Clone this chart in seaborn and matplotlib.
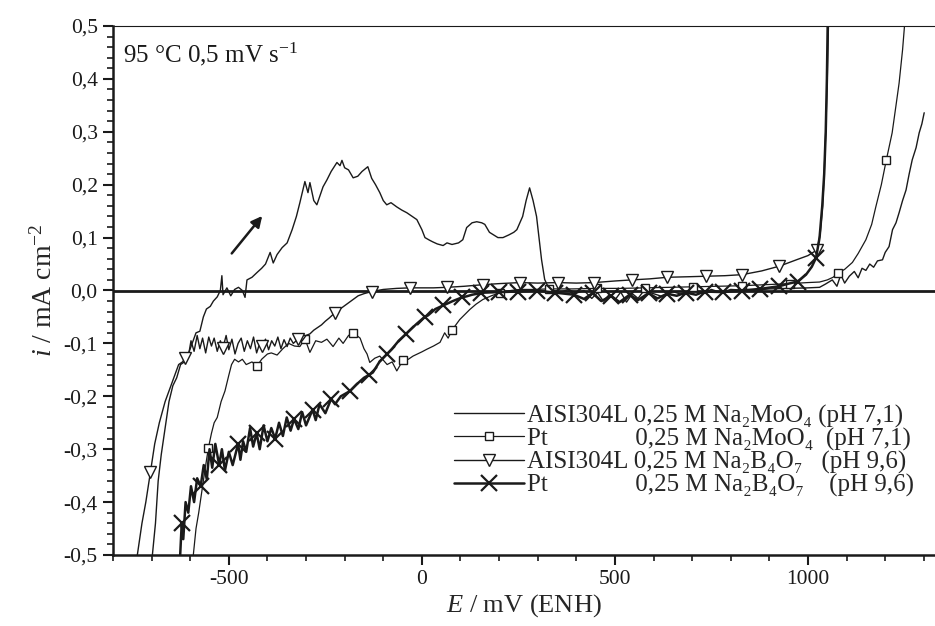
import numpy as np
import pandas as pd
import seaborn as sns
import matplotlib.pyplot as plt
from matplotlib.ticker import MultipleLocator, FuncFormatter

# AISI304L in 0,25 M Na2MoO4 (plain line)
A_E = [-698, -690, -683, -675, -665, -655, -645, -635, -625, -615,
       -605, -595, -585, -575, -566, -558, -548, -540, -530, -522,
       -518, -515, -505, -495, -485, -475, -465, -458, -453, -440,
       -427, -415, -405, -393, -385, -375, -362, -349, -336, -325,
       -316, -303, -295, -290, -280, -272, -256, -246, -235, -220,
       -212, -207, -200, -190, -178, -166, -155, -140, -130, -120,
       -109, -100, -91, -80, -65, -52, -39, -25, -13, 0,
       8, 20, 28, 40, 55, 65, 78, 95, 106, 116,
       130, 142, 155, 163, 175, 184, 197, 210, 225, 238,
       246, 255, 261, 270, 279, 288, 297, 305, 310, 314,
       318, 326, 340, 360, 380, 400, 420, 440, 455, 470,
       485, 500, 515, 530, 545, 560, 575, 600, 625, 650,
       675, 700, 725, 750, 775, 800, 850, 900, 950, 1000,
       1030, 1045, 1063, 1075, 1085, 1095, 1107, 1120, 1130, 1140,
       1150, 1160, 1170, 1180, 1193, 1200, 1210, 1219, 1228, 1236,
       1245, 1254, 1262, 1270, 1280, 1288, 1295, 1301]
A_i = [-0.50, -0.44, -0.36, -0.31, -0.26, -0.21, -0.18, -0.165, -0.14, -0.135,
       -0.12, -0.10, -0.08, -0.077, -0.05, -0.035, -0.03, -0.02, -0.012, 0.0,
       0.028, -0.008, 0.005, -0.01, 0.002, 0.006, 0.0, -0.013, 0.02, 0.025,
       0.034, 0.042, 0.05, 0.072, 0.052, 0.068, 0.081, 0.09, 0.115, 0.14,
       0.166, 0.206, 0.185, 0.204, 0.17, 0.162, 0.196, 0.209, 0.225, 0.242,
       0.236, 0.246, 0.232, 0.228, 0.213, 0.216, 0.225, 0.234, 0.212, 0.2,
       0.185, 0.17, 0.162, 0.166, 0.158, 0.152, 0.147, 0.14, 0.134, 0.115,
       0.1, 0.095, 0.092, 0.088, 0.085, 0.09, 0.087, 0.09, 0.096, 0.119,
       0.128, 0.13, 0.128, 0.125, 0.11, 0.106, 0.1, 0.1, 0.105, 0.11,
       0.115, 0.13, 0.14, 0.17, 0.194, 0.17, 0.14, 0.09, 0.058, 0.04,
       0.021, 0.008, 0.0, -0.003, 0.002, -0.005, 0.0, -0.015, -0.004, -0.02,
       -0.008, -0.018, -0.003, -0.022, -0.006, -0.015, 0.0, -0.006, -0.012, -0.002,
       -0.008, 0.0, -0.005, 0.002, -0.004, 0.002, 0.0, 0.003, 0.004, 0.005,
       0.006, 0.012, 0.02, 0.008, 0.03, 0.014, 0.027, 0.036, 0.024, 0.042,
       0.038, 0.05, 0.044, 0.056, 0.058, 0.072, 0.083, 0.115, 0.128, 0.147,
       0.17, 0.19, 0.22, 0.247, 0.27, 0.298, 0.315, 0.336]

# Pt in 0,25 M Na2MoO4 (squares)
B_E = [-592, -585, -578, -570, -562, -553, -545, -538, -530, -520,
       -510, -500, -493, -485, -475, -465, -455, -440, -427, -415,
       -400, -390, -375, -360, -345, -330, -316, -303, -290, -275,
       -260, -246, -230, -215, -204, -190, -178, -160, -150, -142,
       -135, -122, -109, -90, -77, -65, -49, -35, -23, 0,
       13, 30, 47, 59, 68, 78, 98, 124, 140, 158,
       180, 203, 230, 253, 290, 328, 390, 453, 515, 578,
       640, 703, 765, 828, 890, 953, 1000, 1030, 1050, 1065,
       1078, 1095, 1115, 1130, 1150, 1165, 1176, 1190, 1203, 1218,
       1228, 1236, 1245, 1250, 1256]
B_i = [-0.50, -0.45, -0.42, -0.38, -0.34, -0.298, -0.27, -0.25, -0.24, -0.21,
       -0.19, -0.16, -0.14, -0.13, -0.135, -0.13, -0.14, -0.135, -0.143, -0.13,
       -0.12, -0.118, -0.122, -0.11, -0.1, -0.105, -0.106, -0.091, -0.117, -0.095,
       -0.098, -0.092, -0.106, -0.09, -0.1, -0.085, -0.08, -0.09, -0.11, -0.12,
       -0.136, -0.128, -0.124, -0.14, -0.135, -0.152, -0.132, -0.13, -0.124, -0.116,
       -0.111, -0.105, -0.098, -0.08, -0.09, -0.075, -0.055, -0.036, -0.026, -0.017,
       -0.01, -0.004, 0.0, 0.002, 0.002, 0.003, 0.003, 0.004, 0.004, 0.005,
       0.006, 0.007, 0.008, 0.009, 0.011, 0.013, 0.015, 0.016, 0.02, 0.025,
       0.033, 0.04, 0.053, 0.07, 0.096, 0.125, 0.159, 0.2, 0.247, 0.298,
       0.35, 0.392, 0.455, 0.5, 0.56]

# AISI304L in 0,25 M Na2B4O7 (triangles)
C_E = [-737, -725, -715, -703, -692, -680, -665, -650, -640, -630,
       -620, -613, -605, -598, -590, -582, -575, -568, -560, -552,
       -545, -538, -530, -522, -515, -507, -500, -492, -484, -476,
       -468, -460, -452, -444, -436, -428, -420, -414, -405, -397,
       -389, -381, -373, -365, -357, -349, -341, -333, -321, -310,
       -300, -290, -280, -270, -260, -250, -240, -225, -210, -195,
       -180, -165, -150, -140, -130, -100, -65, -31, 0, 30,
       65, 110, 158, 200, 254, 300, 352, 400, 447, 500,
       543, 590, 636, 690, 737, 785, 830, 880, 926, 970,
       1000, 1024, 1032, 1038, 1042, 1046, 1050, 1053, 1056]
C_i = [-0.50, -0.44, -0.40, -0.343, -0.29, -0.25, -0.21, -0.18, -0.16, -0.14,
       -0.135, -0.128, -0.125, -0.095, -0.115, -0.085, -0.11, -0.09, -0.118, -0.088,
       -0.105, -0.09, -0.115, -0.095, -0.108, -0.085, -0.112, -0.092, -0.12, -0.1,
       -0.09, -0.115, -0.095, -0.11, -0.088, -0.118, -0.1, -0.105, -0.092, -0.112,
       -0.095, -0.105, -0.088, -0.11, -0.093, -0.106, -0.09, -0.1, -0.092, -0.095,
       -0.085, -0.082, -0.075, -0.07, -0.065, -0.058, -0.052, -0.042, -0.034, -0.026,
       -0.018, -0.01, -0.006, -0.004, -0.002, 0.002, 0.004, 0.005, 0.005, 0.005,
       0.006, 0.008, 0.011, 0.013, 0.015, 0.014, 0.015, 0.014, 0.015, 0.018,
       0.02, 0.022, 0.025, 0.026, 0.027, 0.028, 0.03, 0.037, 0.046, 0.058,
       0.066, 0.077, 0.11, 0.16, 0.22, 0.3, 0.4, 0.5, 0.6]

# Pt in 0,25 M Na2B4O7 (crosses)
D_E = [-626, -622, -618, -612, -605, -598, -590, -582, -573, -565,
       -557, -550, -543, -535, -525, -518, -510, -500, -490, -476,
       -470, -463, -455, -445, -437, -428, -420, -410, -400, -390,
       -380, -370, -360, -350, -340, -331, -320, -310, -300, -283,
       -275, -265, -250, -235, -225, -210, -186, -170, -150, -138,
       -127, -110, -90, -78, -60, -41, -31, -15, 7, 16,
       35, 56, 65, 80, 104, 116, 130, 152, 163, 200,
       249, 297, 345, 394, 420, 442, 465, 490, 512, 538,
       560, 587, 610, 635, 660, 683, 710, 732, 780, 828,
       876, 925, 950, 973, 995, 1010, 1021, 1030, 1037, 1042,
       1046, 1049, 1051, 1054]
D_i = [-0.50, -0.44, -0.47, -0.40, -0.42, -0.37, -0.40, -0.355, -0.37, -0.33,
       -0.357, -0.30, -0.335, -0.29, -0.33, -0.30, -0.34, -0.305, -0.33, -0.29,
       -0.32, -0.285, -0.305, -0.26, -0.295, -0.27, -0.3, -0.255, -0.285, -0.26,
       -0.28, -0.25, -0.275, -0.24, -0.265, -0.243, -0.262, -0.23, -0.255, -0.225,
       -0.245, -0.215, -0.232, -0.205, -0.215, -0.2, -0.19, -0.178, -0.165, -0.16,
       -0.155, -0.135, -0.12, -0.111, -0.095, -0.082, -0.075, -0.064, -0.05, -0.047,
       -0.035, -0.028, -0.025, -0.02, -0.013, -0.011, -0.008, -0.005, -0.004, -0.003,
       -0.002, 0.0, -0.004, -0.008, -0.016, -0.005, -0.02, -0.01, -0.022, -0.008,
       -0.018, -0.005, -0.015, -0.006, -0.01, -0.004, -0.008, -0.002, -0.003, 0.0,
       0.003, 0.008, 0.013, 0.017, 0.03, 0.045, 0.062, 0.1, 0.16, 0.22,
       0.3, 0.4, 0.5, 0.6]

# potentials where the symbols sit
B_marks = [-553, -427, -303, -178, -49, 78, 203, 328, 453, 578, 703, 828, 953, 1078, 1203]
C_marks = [-703, -613, -515, -414, -321, -225, -130, -31, 65, 158, 254, 352, 447,
           543, 636, 737, 830, 926, 1024]
D_marks = [-622, -573, -525, -476, -428, -380, -331, -283, -235, -186, -138, -90, -41,
           7, 56, 104, 152, 200, 249, 297, 345, 394, 442, 490, 538, 587, 635, 683,
           732, 780, 828, 876, 925, 973, 1021]

labels = ['AISI304L 0,25 M Na₂MoO₄ (pH 7,1)',
          'Pt' + ' ' * 14 + '0,25 M Na₂MoO₄  (pH 7,1)',
          'AISI304L 0,25 M Na₂B₄O₇   (pH 9,6)',
          'Pt' + ' ' * 14 + '0,25 M Na₂B₄O₇    (pH 9,6)']


def mark_idx(E, at):
    E = np.asarray(E)
    return sorted({int(np.argmin(np.abs(E - m))) for m in at})


sns.set_theme(style='ticks')
plt.rcParams['font.family'] = ['Liberation Serif', 'DejaVu Serif']
plt.rcParams['mathtext.fontset'] = 'custom'
plt.rcParams['mathtext.rm'] = 'Liberation Serif'
plt.rcParams['mathtext.it'] = 'Liberation Serif:italic'
plt.rcParams['axes.unicode_minus'] = False

ink = '#1a1a1a'
fig = plt.figure(figsize=(9.35, 6.26), dpi=100)
ax = fig.add_axes([113 / 935, 71 / 626, 822 / 935, 529 / 626])

ax.axhline(0, color=ink, lw=2.0, zorder=1)

sns.lineplot(x=A_E, y=A_i, ax=ax, sort=False, estimator=None, color=ink, lw=1.0,
             label=labels[0])
sns.lineplot(x=B_E, y=B_i, ax=ax, sort=False, estimator=None, color=ink, lw=0.9,
             marker='s', markersize=6, markerfacecolor='white', markeredgecolor=ink,
             markeredgewidth=1.0, markevery=mark_idx(B_E, B_marks), label=labels[1])
sns.lineplot(x=C_E, y=C_i, ax=ax, sort=False, estimator=None, color=ink, lw=1.0,
             marker='v', markersize=8, markerfacecolor='white', markeredgecolor=ink,
             markeredgewidth=1.0, markevery=mark_idx(C_E, C_marks), label=labels[2])
sns.lineplot(x=D_E, y=D_i, ax=ax, sort=False, estimator=None, color=ink, lw=1.8,
             marker='x', markersize=11, markeredgecolor=ink,
             markeredgewidth=1.6, markevery=mark_idx(D_E, D_marks), label=labels[3])

ax.set_xlim(-800, 1329)
ax.set_ylim(-0.5, 0.5)
ax.xaxis.set_major_locator(MultipleLocator(500))
ax.xaxis.set_minor_locator(MultipleLocator(100))
ax.yaxis.set_major_locator(MultipleLocator(0.1))
ax.yaxis.set_minor_locator(MultipleLocator(0.02))
ax.xaxis.set_major_formatter(FuncFormatter(lambda v, p: f"{v:.0f}"))
ax.yaxis.set_major_formatter(FuncFormatter(lambda v, p: f"{round(v, 2) + 0.0:.1f}".replace('.', ',')))
ax.tick_params(which='major', direction='out', length=7, width=1.5, colors=ink,
               labelsize=15.5, pad=4)
ax.tick_params(which='minor', direction='out', length=4, width=1.2, colors=ink)

for s in ['left', 'bottom']:
    ax.spines[s].set_linewidth(1.8)
    ax.spines[s].set_color(ink)
ax.spines['top'].set_linewidth(0.8)
ax.spines['top'].set_color(ink)
ax.spines['right'].set_visible(False)

ax.set_xlabel('$E$ / mV (ENH)', fontsize=19, labelpad=2)
ax.set_ylabel('$i$ / mA cm$^{-2}$', fontsize=20, labelpad=4)

ax.text(0.012, 0.972, '95 °C 0,5 mV s$^{-1}$', transform=ax.transAxes, fontsize=18,
        va='top', ha='left', color=ink)
ax.annotate('', xy=(-409, 0.145), xytext=(-497, 0.066),
            arrowprops=dict(arrowstyle='-|>', color=ink, lw=1.8, mutation_scale=16))

ax.legend(loc='lower right', bbox_to_anchor=(0.975, 0.11), frameon=False,
          fontsize=18, handlelength=2.8, handletextpad=0.12, labelspacing=0.0,
          borderaxespad=0, borderpad=0)

fig.savefig('out.png', dpi=100)
